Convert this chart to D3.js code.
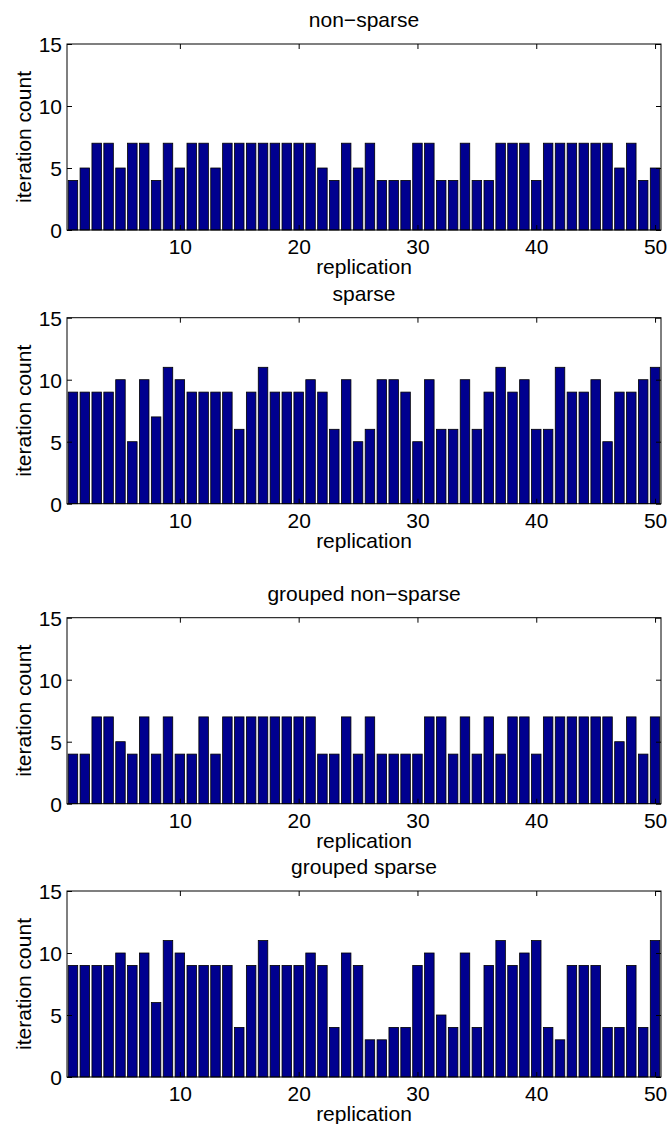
<!DOCTYPE html>
<html>
<head>
<meta charset="utf-8">
<script src="https://cdn.jsdelivr.net/npm/d3@7"></script>
<style>
  html, body { margin: 0; padding: 0; background: #fff; }
  svg { display: block; }
  text { font-family: "Liberation Sans", Arial, Helvetica, sans-serif; fill: #000; }
</style>
</head>
<body>
<svg id="chart" width="669" height="1124"></svg>
<script>
// ---------- data ----------
const replications = d3.range(1, 51);
const panelTitles = ["non\u2212sparse", "sparse", "grouped non\u2212sparse", "grouped sparse"];
const nonSparse = [4,5,7,7,5,7,7,4,7,5,7,7,5,7,7,7,7,7,7,7,7,5,4,7,5,7,4,4,4,7,7,4,4,7,4,4,7,7,7,4,7,7,7,7,7,7,5,7,4,5];
const sparse = [9,9,9,9,10,5,10,7,11,10,9,9,9,9,6,9,11,9,9,9,10,9,6,10,5,6,10,10,9,5,10,6,6,10,6,9,11,9,10,6,6,11,9,9,10,5,9,9,10,11];
const groupedNonSparse = [4,4,7,7,5,4,7,4,7,4,4,7,4,7,7,7,7,7,7,7,7,4,4,7,4,7,4,4,4,4,7,7,4,7,4,7,4,7,7,4,7,7,7,7,7,7,5,7,4,7];
const groupedSparse = [9,9,9,9,10,9,10,6,11,10,9,9,9,9,4,9,11,9,9,9,10,9,4,10,9,3,3,4,4,9,10,5,4,10,4,9,11,9,10,11,4,3,9,9,9,4,4,9,4,11];
const xTickValues = [10, 20, 30, 40, 50];
const yTickValues = [0, 5, 10, 15];
const yMax = 15;
const xLabel = "replication";
const yLabel = "iteration count";

const seriesList = [nonSparse, sparse, groupedNonSparse, groupedSparse];

// ---------- layout ----------
const svg = d3.select("#chart");
const left = 67, right = 661;
const panelTops = [44, 317.7, 617.7, 891];
const panelH = 186;
const fontSize = 21;
const barColor = "#00008f";

const x = d3.scaleLinear().domain([0.5, 50.5]).range([left, right]);
const barW = (x(1) - x(0)) * 0.8;

seriesList.forEach((vals, i) => {
  const top = panelTops[i], bottom = top + panelH;
  const y = d3.scaleLinear().domain([0, yMax]).range([bottom, top]);
  const g = svg.append("g");

  // bars
  g.selectAll("rect.bar").data(vals).enter().append("rect")
    .attr("class", "bar")
    .attr("x", (d, j) => x(replications[j]) - barW / 2)
    .attr("y", d => y(d))
    .attr("width", barW)
    .attr("height", d => y(0) - y(d))
    .attr("fill", barColor)
    .attr("stroke", "#000")
    .attr("stroke-width", 0.8);

  // axes (ticks inward)
  const tickLen = 5;
  const xb = g.append("g").attr("transform", `translate(0,${bottom})`)
    .call(d3.axisBottom(x).tickValues(xTickValues).tickSize(-tickLen).tickPadding(9).tickFormat(d3.format("d")));
  const xt = g.append("g").attr("transform", `translate(0,${top})`)
    .call(d3.axisTop(x).tickValues(xTickValues).tickSize(-tickLen).tickFormat(""));
  const yl = g.append("g").attr("transform", `translate(${left},0)`)
    .call(d3.axisLeft(y).tickValues(yTickValues).tickSize(-tickLen).tickPadding(5).tickFormat(d3.format("d")));
  const yr = g.append("g").attr("transform", `translate(${right},0)`)
    .call(d3.axisRight(y).tickValues(yTickValues).tickSize(-tickLen).tickFormat(""));
  [xb, xt, yl, yr].forEach(a => {
    a.select(".domain").remove();
    a.selectAll("line").attr("stroke", "#000").attr("stroke-width", 1);
    a.selectAll("text").attr("font-size", fontSize)
      .attr("font-family", '"Liberation Sans", Arial, Helvetica, sans-serif').attr("fill", "#000");
  });
  xb.selectAll("text").attr("dy", "0.71em");
  yl.selectAll("text").attr("dy", "0.36em");

  // box
  g.append("rect").attr("x", left).attr("y", top)
    .attr("width", right - left).attr("height", panelH)
    .attr("fill", "none").attr("stroke", "#000").attr("stroke-width", 1);

  // title
  g.append("text").attr("x", (left + right) / 2).attr("y", top - 17)
    .attr("text-anchor", "middle").attr("font-size", fontSize).text(panelTitles[i]);
  // x label
  g.append("text").attr("x", (left + right) / 2).attr("y", bottom + 44)
    .attr("text-anchor", "middle").attr("font-size", fontSize).text(xLabel);
  // y label
  g.append("text")
    .attr("transform", `translate(31,${(top + bottom) / 2}) rotate(-90)`)
    .attr("text-anchor", "middle").attr("font-size", fontSize).text(yLabel);
});
</script>
</body>
</html>
